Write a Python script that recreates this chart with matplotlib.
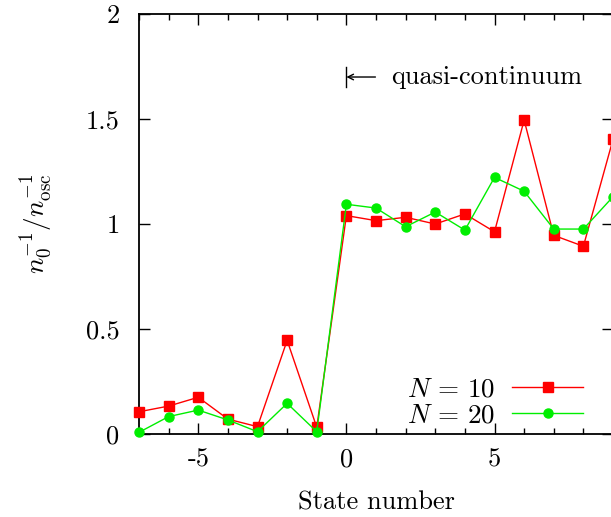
import numpy as np
import matplotlib
matplotlib.use("Agg")
import matplotlib.pyplot as plt

plt.rcParams['font.family'] = ['cmr10', 'DejaVu Serif']
plt.rcParams['mathtext.fontset'] = 'cm'
plt.rcParams['axes.unicode_minus'] = False

# state numbers and normalised inverse occupation
states = [-7, -6, -5, -4, -3, -2, -1, 0, 1, 2, 3, 4, 5, 6, 7, 8, 9]
ratio_n10 = [0.106, 0.133, 0.175, 0.071, 0.035, 0.446, 0.032, 1.040, 1.016,
             1.032, 1.000, 1.048, 0.963, 1.495, 0.946, 0.894, 1.403]
ratio_n20 = [0.008, 0.083, 0.114, 0.067, 0.011, 0.146, 0.011, 1.094, 1.076,
             0.987, 1.057, 0.971, 1.222, 1.156, 0.976, 0.976, 1.130]
xtick_vals = [-5, 0, 5]
xtick_text = ['-5', '0', '5']
ytick_vals = [0, 0.5, 1, 1.5, 2]
ytick_text = ['0', '0.5', '1', '1.5', '2']

fig = plt.figure(figsize=(6.11, 5.17), dpi=100)
ax = fig.add_axes([0.2275, 0.1605, 0.7758, 0.8124])

ax.plot(states, ratio_n10, color='#ff0000', lw=1.0, marker='s', ms=7.5,
        clip_on=False, label=r'$N\,=\,10$', zorder=3)
ax.plot(states, ratio_n20, color='#00ee00', lw=1.0, marker='o', ms=6.5,
        clip_on=False, label=r'$N\,=\,20$', zorder=4)

# marker for where the quasi-continuum starts
ax.plot([0, 0], [1.653, 1.747], color='black', lw=1.0)
ax.annotate('', xy=(0, 1.70), xytext=(0.98, 1.70),
            arrowprops=dict(arrowstyle='->', color='black', lw=1.0,
                            shrinkA=0, shrinkB=0, mutation_scale=10))
ax.text(1.5, 1.70, 'quasi-continuum', fontsize=19, va='center', ha='left')

ax.set_xlim(-7, 9)
ax.set_ylim(0, 2)
ax.set_xticks(xtick_vals)
ax.set_xticklabels(xtick_text)
ax.set_xticks(np.arange(-7, 10, 1), minor=True)
ax.set_yticks(ytick_vals)
ax.set_yticklabels(ytick_text)
ax.tick_params(which='major', direction='in', length=8, width=1.0,
               top=True, right=True, labelsize=19)
ax.tick_params(axis='y', pad=14)
ax.tick_params(axis='x', pad=10)
ax.tick_params(which='minor', direction='in', length=4, width=1.0,
               top=True, right=True)
for s in ax.spines.values():
    s.set_linewidth(1.3)

ax.set_xlabel('State number', fontsize=19, labelpad=14)
ax.set_ylabel(r'$n_0^{-1}/n_{\rm osc}^{-1}$', fontsize=19.5, labelpad=22)

ax.legend(loc='lower right', frameon=False, markerfirst=False, fontsize=19.5,
          handlelength=2.6, handletextpad=0.65, labelspacing=0.05,
          bbox_to_anchor=(0.965, -0.016), borderpad=0)

plt.savefig('out.png', dpi=100)
